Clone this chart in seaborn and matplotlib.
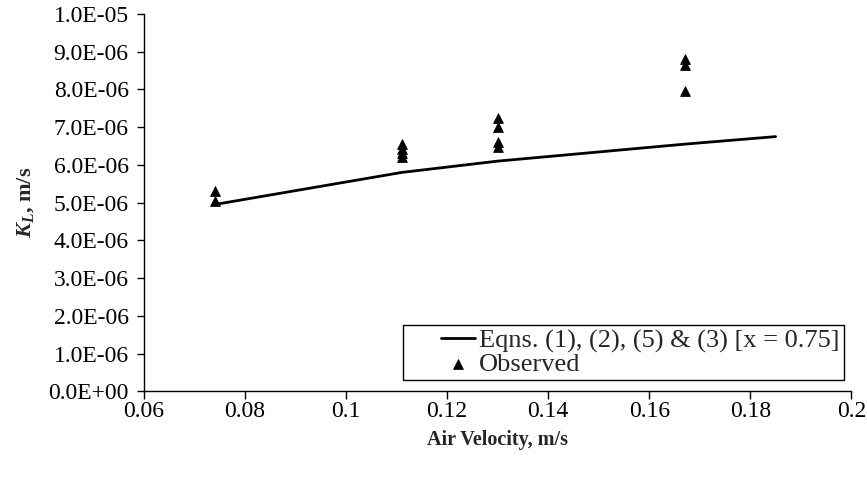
import math
import seaborn as sns
import matplotlib.pyplot as plt
import pandas as pd
from matplotlib.ticker import FuncFormatter
from matplotlib.legend_handler import HandlerLine2D, HandlerPathCollection
from matplotlib.collections import PathCollection
from matplotlib.lines import Line2D

# model curve
model_v = [0.074, 0.111, 0.130, 0.167, 0.185]
model_kl = [4.95e-06, 5.80e-06, 6.10e-06, 6.55e-06, 6.75e-06]

# observed points
obs_v = [0.074, 0.074,
         0.111, 0.111, 0.111, 0.111,
         0.130, 0.130, 0.130, 0.130,
         0.167, 0.167, 0.167]
obs_kl = [5.30e-06, 5.05e-06,
          6.55e-06, 6.42e-06, 6.32e-06, 6.20e-06,
          7.25e-06, 7.00e-06, 6.60e-06, 6.47e-06,
          8.80e-06, 8.65e-06, 7.95e-06]

model = pd.DataFrame({'v': model_v, 'kl': model_kl})
obs = pd.DataFrame({'v': obs_v, 'kl': obs_kl})


def sci(y, pos):
    # Excel style 0.0E+00
    if y == 0:
        return '0.0E+00'
    e = math.floor(math.log10(abs(y)) + 1e-9)
    return '%.1fE%+03d' % (y / 10 ** e, e)


sns.set_style("ticks")
plt.rcParams['font.family'] = ['Liberation Serif', 'DejaVu Serif']
plt.rcParams['mathtext.fontset'] = 'custom'
plt.rcParams['mathtext.bfit'] = 'Liberation Serif:bold:italic'
plt.rcParams['mathtext.it'] = 'Liberation Serif:italic'

fig, ax = plt.subplots(figsize=(8.67, 4.83), dpi=100)
fig.subplots_adjust(left=0.166, right=0.982, top=0.971, bottom=0.19)

sns.lineplot(data=model, x='v', y='kl', color='black', linewidth=2,
             label='Eqns. (1), (2), (5) & (3) [x = 0.75]', ax=ax)
sns.scatterplot(data=obs, x='v', y='kl', marker='^', color='black', s=50,
                edgecolor='black', label='Observed', ax=ax)

ax.set_xlim(0.06, 0.2)
ax.set_ylim(0, 1.0e-05)
ax.set_xticks([0.06, 0.08, 0.1, 0.12, 0.14, 0.16, 0.18, 0.2])
ax.set_xticklabels(['0.06', '0.08', '0.1', '0.12', '0.14', '0.16', '0.18', '0.2'])
ax.set_yticks([i * 1e-06 for i in range(11)])
ax.yaxis.set_major_formatter(FuncFormatter(sci))
ax.tick_params(labelsize=17, colors='black', direction='out', length=5, width=1)
ax.tick_params(axis='y', pad=6)
ax.tick_params(axis='x', length=6, pad=1)
for s in ['left', 'bottom']:
    ax.spines[s].set_color('black')
    ax.spines[s].set_linewidth(1)
sns.despine(ax=ax)

ax.set_xlabel('Air Velocity, m/s', fontsize=14.5, fontweight='bold', labelpad=6)
ax.set_ylabel(r'$\mathbfit{K}_{\mathbfit{L}}$, m/s', fontsize=16, fontweight='bold', labelpad=9)

# handles sit to the right of an empty gap, like the Excel legend
leg = ax.legend(loc='lower right', fontsize=19, frameon=True, fancybox=False,
                edgecolor='black', framealpha=1, borderpad=0.15, labelspacing=0.0,
                handlelength=2.6, handletextpad=0.15, borderaxespad=0,
                bbox_to_anchor=(0.989, 0.029),
                handler_map={Line2D: HandlerLine2D(xpad=1.3),
                             PathCollection: HandlerPathCollection(xpad=1.3)})
leg.get_frame().set_linewidth(1)

fig.savefig('out.png', dpi=100)
